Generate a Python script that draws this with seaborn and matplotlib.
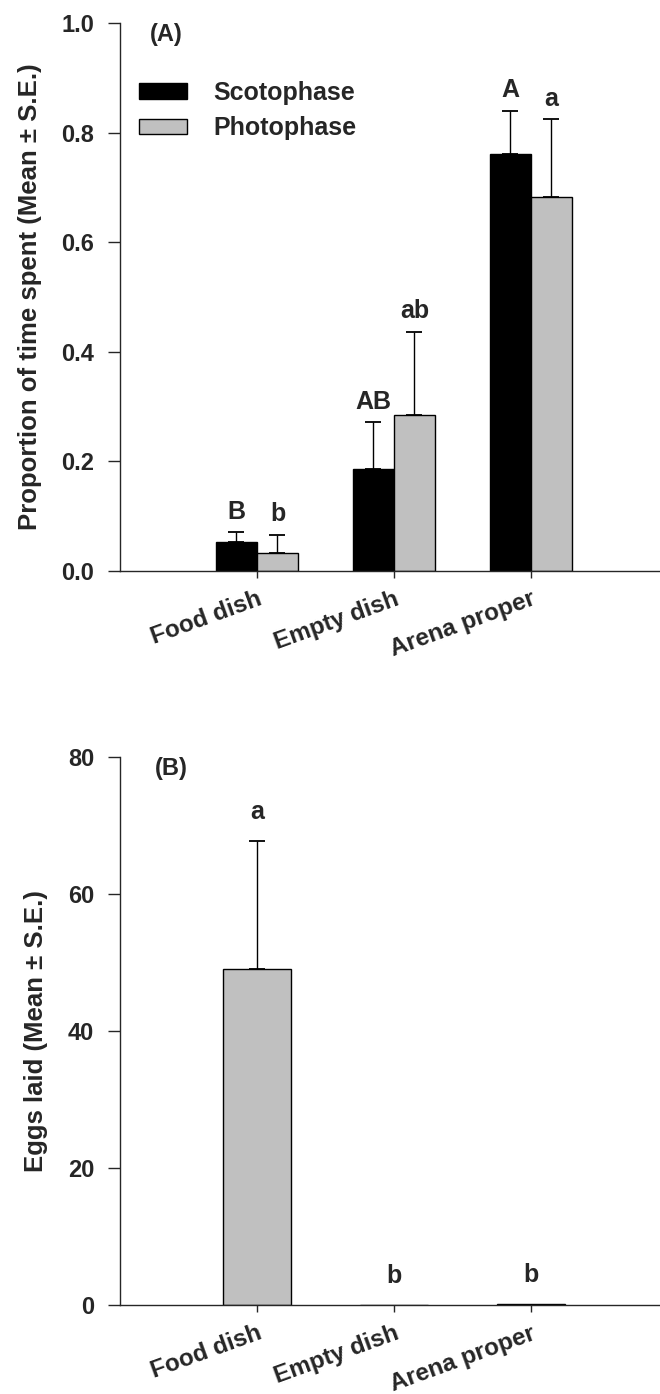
import numpy as np
import pandas as pd
import seaborn as sns
import matplotlib
matplotlib.use("Agg")
import matplotlib.pyplot as plt
from matplotlib.patches import Patch

# data
locations = ["Food dish", "Empty dish", "Arena proper"]
phases = ["Scotophase", "Photophase"]
scoto_mean = [0.053, 0.187, 0.761]
scoto_se = [0.018, 0.084, 0.079]
photo_mean = [0.033, 0.284, 0.683]
photo_se = [0.033, 0.153, 0.142]
scoto_letters = ["B", "AB", "A"]
photo_letters = ["b", "ab", "a"]

eggs_mean = [49.1, 0.0, 0.2]
eggs_se = [18.7, 0.0, 0.0]
eggs_letters = ["a", "b", "b"]

sns.set_style("ticks")
plt.rcParams["font.family"] = ["Liberation Sans", "DejaVu Sans"]
plt.rcParams["font.weight"] = "bold"

tick_fs = 17
lab_fs = 18.5
let_fs = 18
pal = {"Scotophase": "#000000", "Photophase": "#c0c0c0"}

fig = plt.figure(figsize=(6.6, 13.94), dpi=100)
ax1 = fig.add_axes([0.1818, 0.5904, 0.830, 0.3931])
ax2 = fig.add_axes([0.1818, 0.0638, 0.830, 0.3931])


def add_err(ax, bars, df, gap):
    for p, (_, row) in zip(bars, df.iterrows()):
        xc = p.get_x() + p.get_width() / 2
        top = p.get_height()
        if row["se"] > 0:
            ax.errorbar(xc, top, yerr=[[0], [row["se"]]], fmt="none", ecolor="black",
                        elinewidth=1.0, capsize=6, capthick=1.3)
        ax.annotate(row["letter"], (xc, top + row["se"]), xytext=(0, gap),
                    textcoords="offset points", ha="center", va="bottom",
                    fontsize=let_fs, fontweight="bold")


# ---- panel A
df = pd.DataFrame({
    "location": locations * 2,
    "phase": [phases[0]] * 3 + [phases[1]] * 3,
    "mean": scoto_mean + photo_mean,
    "se": scoto_se + photo_se,
    "letter": scoto_letters + photo_letters,
})
sns.barplot(data=df, x="location", y="mean", hue="phase", palette=pal,
            order=locations, hue_order=phases, width=0.6, edgecolor="black",
            linewidth=1.0, errorbar=None, legend=False, saturation=1, ax=ax1)
add_err(ax1, ax1.patches[:6], df, 6)

ax1.set_xlim(-1, 3)
ax1.set_ylim(0, 1.0)
ax1.set_yticks([0.0, 0.2, 0.4, 0.6, 0.8, 1.0])
ax1.set_yticklabels(["0.0", "0.2", "0.4", "0.6", "0.8", "1.0"])
ax1.set_ylabel("Proportion of time spent (Mean ± S.E.)", fontsize=lab_fs, fontweight="bold", labelpad=14)
ax1.text(0.055, 1.0, "(A)", transform=ax1.transAxes, fontsize=17, fontweight="bold", va="top")

handles = [Patch(facecolor=pal[ph], edgecolor="black", linewidth=1.0) for ph in phases]
ax1.legend(handles, phases, loc="upper left", bbox_to_anchor=(0.035, 0.894), frameon=False,
           fontsize=18, handlelength=1.9, handleheight=0.6, handletextpad=1.05,
           labelspacing=0.45, borderpad=0, borderaxespad=0)

# ---- panel B
df2 = pd.DataFrame({"location": locations, "mean": eggs_mean, "se": eggs_se, "letter": eggs_letters})
sns.barplot(data=df2, x="location", y="mean", color="#c0c0c0", order=locations, width=0.5,
            edgecolor="black", linewidth=1.0, errorbar=None, saturation=1, ax=ax2)
add_err(ax2, ax2.patches, df2, 12)

ax2.set_xlim(-1, 3)
ax2.set_ylim(0, 80)
ax2.set_yticks([0, 20, 40, 60, 80])
ax2.set_ylabel("Eggs laid (Mean ± S.E.)", fontsize=lab_fs, fontweight="bold", labelpad=14)
ax2.text(0.063, 1.0, "(B)", transform=ax2.transAxes, fontsize=17, fontweight="bold", va="top")

for ax in (ax1, ax2):
    ax.set_xlabel("")
    sns.despine(ax=ax)
    for s in ("left", "bottom"):
        ax.spines[s].set_linewidth(1.0)
    ax.tick_params(axis="y", direction="out", length=8.5, width=1, labelsize=tick_fs, pad=10)
    ax.tick_params(axis="x", direction="out", length=5, width=1, labelsize=17.5, pad=7)
    ax.set_xticks(range(len(locations)))
    ax.set_xticklabels(locations, rotation=20, ha="right", rotation_mode="anchor",
                       fontweight="bold")
    for t in ax.get_yticklabels():
        t.set_fontweight("bold")

fig.savefig("out.png", dpi=100)
